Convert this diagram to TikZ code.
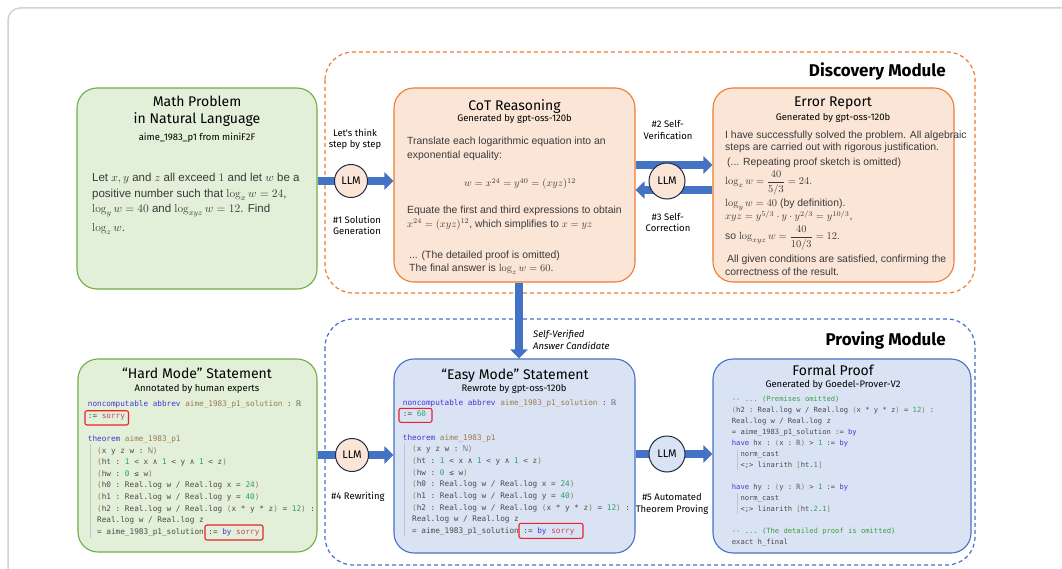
\RequirePackage{fix-cm}
\documentclass[tikz,border=0pt]{standalone}
\usepackage{fontspec}
\newfontfamily\handf{Fira Sans}
\newfontfamily\bodyf{Liberation Sans}
\setmonofont{DejaVu Sans Mono}
\usetikzlibrary{arrows.meta}

\definecolor{grnF}{HTML}{E2EFD9}
\definecolor{grnB}{HTML}{70AD47}
\definecolor{orgF}{HTML}{FBE5D6}
\definecolor{orgB}{HTML}{ED7D31}
\definecolor{bluF}{HTML}{DAE3F3}
\definecolor{bluB}{HTML}{4472C4}
\definecolor{arrB}{HTML}{4472C4}
\definecolor{navy}{HTML}{1F2A44}
\definecolor{frameC}{HTML}{CBD3DD}
\definecolor{txtC}{HTML}{3A3A3A}
\definecolor{codeC}{HTML}{4A4A4A}
\definecolor{kwC}{HTML}{4338D0}
\definecolor{idC}{HTML}{9C7B4E}
\definecolor{soC}{HTML}{C8485A}
\definecolor{numC}{HTML}{2E9E70}
\definecolor{cmC}{HTML}{3E9E3E}
\definecolor{hlR}{HTML}{E8242B}
\definecolor{guideC}{HTML}{C4C4C4}

% Lean syntax colouring
\newcommand\lkw[1]{\textcolor{kwC}{#1}}
\newcommand\lid[1]{\textcolor{idC}{#1}}
\newcommand\lso[1]{\textcolor{soC}{#1}}
\newcommand\lnum[1]{\textcolor{numC}{#1}}
\newcommand\lpar[1]{\textcolor{idC}{#1}}
\newcommand\lcm[1]{\textcolor{cmC}{#1}}
\newcommand\lind{\hspace*{2\fontcharwd\font`0}}

\tikzset{
  panel/.style={draw, line width=1.1pt, rounded corners=20pt, inner sep=0pt},
  gpanel/.style={panel, draw=grnB, fill=grnF},
  opanel/.style={panel, draw=orgB, fill=orgF},
  bpanel/.style={panel, draw=bluB, fill=bluF},
  ttl/.style={font=\handf\fontsize{14}{16}\selectfont, anchor=base, inner sep=0pt},
  sub/.style={font=\handf\fontsize{9.5}{11}\selectfont, anchor=base, inner sep=0pt},
  txt/.style={font=\bodyf\fontsize{10.4}{12}\selectfont, text=txtC, anchor=base west, inner sep=0pt},
  txtL/.style={txt, font=\bodyf\fontsize{11.5}{13}\selectfont},
  lbl/.style={font=\handf\fontsize{9.5}{11}\selectfont, anchor=base, inner sep=0pt},
  slbl/.style={font=\handf\itshape\fontsize{9.5}{11}\selectfont, anchor=base west, inner sep=0pt},
  modlbl/.style={font=\handf\bfseries\fontsize{17}{19}\selectfont, anchor=base east, inner sep=0pt},
  llm/.style={circle, draw=navy, line width=1pt, inner sep=0pt, font=\handf\fontsize{11}{12}\selectfont},
  flow/.style={draw=arrB, line width=7.5pt, -{Triangle[width=17pt,length=9pt]}},
  hl/.style={draw=hlR, line width=1.1pt, rounded corners=2pt},
  guide/.style={draw=guideC, line width=0.8pt},
  code/.style={font=\ttfamily\fontsize{7.7}{11.64}\selectfont, text=codeC, anchor=base west, inner sep=0pt},
  codeS/.style={code, font=\ttfamily\fontsize{7.15}{11}\selectfont},
  modbox/.style={line width=1.2pt, dash pattern=on 4pt off 3pt, rounded corners=28pt},
}

\begin{document}
\begin{tikzpicture}[x=1pt,y=-1pt]
\useasboundingbox (0,0) rectangle (1062,569);
\fill[white] (0,0) rectangle (1062,569);
\begin{scope}
  \clip (0,0) rectangle (1062,569);
  \draw[frameC, line width=1.5pt, rounded corners=12pt] (8,8) rectangle (1090,600);
\end{scope}

% module frames
\draw[modbox, draw=orgB] (325,52) rectangle (975,293);
\draw[modbox, draw=bluB] (325,319) rectangle (975,565);
\node[modlbl] (dmod) at (946,77) {Discovery Module};
\node[modlbl] (pmod) at (946,345) {Proving Module};

% panels
\node[gpanel, minimum width=240pt, minimum height=201pt] (math) at (197,188.5) {};
\node[opanel, minimum width=241pt, minimum height=194pt] (cot) at (514.5,185) {};
\node[opanel, minimum width=241pt, minimum height=194pt] (err) at (833.5,185) {};
\node[gpanel, minimum width=239pt, minimum height=193pt] (hard) at (197.5,455.5) {};
\node[bpanel, minimum width=241pt, minimum height=194pt] (easy) at (514.5,456) {};
\node[bpanel, minimum width=258pt, minimum height=194pt] (proof) at (842,456) {};

% LLM anchor points
\coordinate (c1) at (351,181);
\coordinate (c23) at (667,181);
\coordinate (vup) at (667,165);
\coordinate (vdn) at (667,190);
\coordinate (c4) at (352,455);
\coordinate (c5) at (667,454);
\coordinate (sv) at (519,320);

% flow arrows
\draw[flow] (math.east |- c1) -- (cot.west |- c1);
\draw[flow] (cot.east |- vup) -- (err.west |- vup);
\draw[flow] (err.west |- vdn) -- (cot.east |- vdn);
\draw[flow] (cot.south -| sv) -- (easy.north -| sv);
\draw[flow] (hard.east |- c4) -- (easy.west |- c4);
\draw[flow] (easy.east |- c5) -- (proof.west |- c5);

% LLM circles
\node[llm, fill=orgF, minimum size=33pt] (llm1) at (c1) {LLM};
\node[llm, fill=orgF, minimum size=36pt] (llm23) at (c23) {LLM};
\node[llm, fill=orgF, minimum size=33pt] (llm4) at (c4) {LLM};
\node[llm, fill=bluF, minimum size=36pt] (llm5) at (c5) {LLM};

% step labels
\node[lbl] (l1a) at (355,136.5) {Let's think};
\node[lbl] (l1b) at (355,147.5) {step by step};
\node[lbl] (l1c) at (357,223.5) {\#1 Solution};
\node[lbl] (l1d) at (357,235) {Generation};
\node[lbl] (l2a) at (668,128) {\#2 Self-};
\node[lbl] (l2b) at (668,140) {Verification};
\node[lbl] (l3a) at (668,220.5) {\#3 Self-};
\node[lbl] (l3b) at (668,232) {Correction};
\node[lbl] (l4) at (358,499.5) {\#4 Rewriting};
\node[lbl] (l5a) at (672,500) {\#5 Automated};
\node[lbl] (l5b) at (672,512) {Theorem Proving};
\node[slbl] (sva) at (533,337) {Self-Verified};
\node[slbl] (svb) at (533,349) {Answer Candidate};

% Math problem panel
\node[ttl] (mt1) at (197,107) {Math Problem};
\node[ttl] (mt2) at (197,124) {in Natural Language};
\node[sub] (mt3) at (197,140.5) {aime\_1983\_p1 from miniF2F};
\node[txtL] (m1) at (92,182) {Let \(x, y\) and \(z\) all exceed \(1\) and let \(w\) be a};
\node[txtL] (m2) at (92,197.5) {positive number such that \(\log_x w = 24\),};
\node[txtL] (m3) at (92,213) {\(\log_y w = 40\) and \(\log_{xyz} w = 12\). Find};
\node[txtL] (m4) at (92,232) {\(\log_z w\).};

% CoT panel
\node[ttl] (ct1) at (514.5,111) {CoT Reasoning};
\node[sub] (ct2) at (514.5,122) {Generated by gpt-oss-120b};
\node[txt] (cb1) at (407,145) {Translate each logarithmic equation into an};
\node[txt] (cb2) at (407,159) {exponential equality:};
\node[txt, anchor=base] (cb3) at (520,187) {\(w = x^{24} = y^{40} = (xyz)^{12}\)};
\node[txt] (cb4) at (407,213.3) {Equate the first and third expressions to obtain};
\node[txt] (cb5) at (407,227.7) {\(x^{24} = (xyz)^{12}\), which simplifies to \(x = yz\)};
\node[txt] (cb6) at (409,258.3) {... (The detailed proof is omitted)};
\node[txt] (cb7) at (409,271.7) {The final answer is \(\log_z w = 60\).};

% Error report panel
\node[ttl] (et1) at (833,106.7) {Error Report};
\node[sub] (et2) at (833,120.3) {Generated by gpt-oss-120b};
\node[txt] (eb1) at (725,138.3) {I have successfully solved the problem. All algebraic};
\node[txt] (eb2) at (725,151) {steps are carried out with rigorous justification.};
\node[txt] (eb3) at (727,165.7) {(... Repeating proof sketch is omitted)};
\node[txt] (eb4) at (725,185) {\(\log_x w = \displaystyle\frac{40}{5/3} = 24.\)};
\node[txt] (eb5) at (725,206.7) {\(\log_y w = 40\) (by definition).};
\node[txt] (eb6) at (725,220) {\(xyz = y^{5/3}\cdot y\cdot y^{2/3} = y^{10/3}\),};
\node[txt] (eb7) at (725,240) {so \(\log_{xyz} w = \displaystyle\frac{40}{10/3} = 12.\)};
\node[txt] (eb8) at (727,262.3) {All given conditions are satisfied, confirming the};
\node[txt] (eb9) at (725,276) {correctness of the result.};

% Hard mode panel
\node[ttl] (ht1) at (197,378) {“Hard Mode” Statement};
\node[sub] (ht2) at (197,391) {Annotated by human experts};
\draw[guide] (90,444) -- (90,538);
\node[code] (hc) at (87.7,406.5) {\begin{tabular}[t]{@{}l@{}}
\lkw{noncomputable abbrev} \lid{aime\_1983\_p1\_solution} : ℝ\\
:= \lso{sorry}\\
\\
\lkw{theorem} \lid{aime\_1983\_p1}\\
\lind\lpar{(}x y z w : ℕ\lpar{)}\\
\lind\lpar{(}ht : \lnum{1} < x ∧ \lnum{1} < y ∧ \lnum{1} < z\lpar{)}\\
\lind\lpar{(}hw : \lnum{0} ≤ w\lpar{)}\\
\lind\lpar{(}h0 : Real.log w / Real.log x = \lnum{24}\lpar{)}\\
\lind\lpar{(}h1 : Real.log w / Real.log y = \lnum{40}\lpar{)}\\
\lind\lpar{(}h2 : Real.log w / Real.log \lpar{(}x * y * z\lpar{)} = \lnum{12}\lpar{)} :\\
\lind Real.log w / Real.log z\\
\lind = aime\_1983\_p1\_solution := \lkw{by} \lso{sorry}
\end{tabular}};
\draw[hl] (85,410.7) rectangle (128.5,425);
\draw[hl] (205,525) rectangle (263,540);

% Easy mode panel
\node[ttl] (st1) at (515,379) {“Easy Mode” Statement};
\node[sub] (st2) at (514,391) {Rewrote by gpt-oss-120b};
\draw[guide] (404,443) -- (404,536);
\node[code] (ec) at (402.7,405.3) {\begin{tabular}[t]{@{}l@{}}
\lkw{noncomputable abbrev} \lid{aime\_1983\_p1\_solution} : ℝ\\
:= \lnum{60}\\
\\
\lkw{theorem} \lid{aime\_1983\_p1}\\
\lind\lpar{(}x y z w : ℕ\lpar{)}\\
\lind\lpar{(}ht : \lnum{1} < x ∧ \lnum{1} < y ∧ \lnum{1} < z\lpar{)}\\
\lind\lpar{(}hw : \lnum{0} ≤ w\lpar{)}\\
\lind\lpar{(}h0 : Real.log w / Real.log x = \lnum{24}\lpar{)}\\
\lind\lpar{(}h1 : Real.log w / Real.log y = \lnum{40}\lpar{)}\\
\lind\lpar{(}h2 : Real.log w / Real.log \lpar{(}x * y * z\lpar{)} = \lnum{12}\lpar{)} :\\
\lind Real.log w / Real.log z\\
\lind = aime\_1983\_p1\_solution := \lkw{by} \lso{sorry}
\end{tabular}};
\draw[hl] (399,408.3) rectangle (432,422.3);
\draw[hl] (519,523.3) rectangle (583,538.3);

% Formal proof panel
\node[ttl] (ft1) at (833,375.7) {Formal Proof};
\node[sub] (ft2) at (833,387.3) {Generated by Goedel-Prover-V2};
\draw[guide] (737,450) -- (737,470);
\draw[guide] (737,493) -- (737,514);
\node[codeS] (fc) at (731.7,401.8) {\begin{tabular}[t]{@{}l@{}}
\lcm{-{}- ... (Premises omitted)}\\
\lpar{(}h2 : Real.log w / Real.log \lpar{(}x * y * z\lpar{)} = \lnum{12}\lpar{)} :\\
Real.log w / Real.log z\\
= aime\_1983\_p1\_solution := \lkw{by}\\
\lkw{have} hx : \lpar{(}x : ℝ\lpar{)} > \lnum{1} := \lkw{by}\\
\lind norm\_cast\\
\lind <;> linarith \lpar{[}ht.\lnum{1}\lpar{]}\\
\\
\lkw{have} hy : \lpar{(}y : ℝ\lpar{)} > \lnum{1} := \lkw{by}\\
\lind norm\_cast\\
\lind <;> linarith \lpar{[}ht.\lnum{2}.\lnum{1}\lpar{]}\\
\\
\lcm{-{}- ... (The detailed proof is omitted)}\\
exact h\_final
\end{tabular}};
\end{tikzpicture}
\end{document}
